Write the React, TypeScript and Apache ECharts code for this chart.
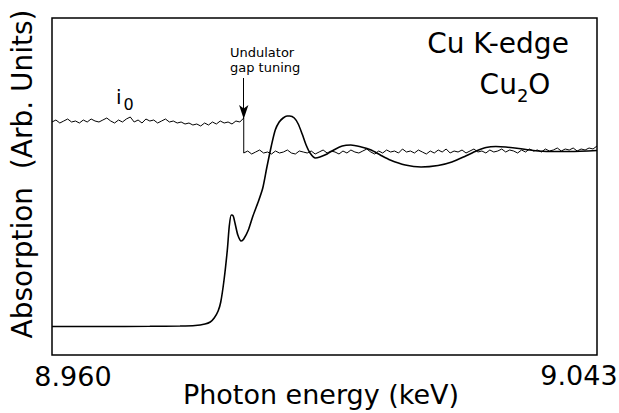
import React, { useEffect, useRef } from "react";
import * as echarts from "echarts";

// X axis range (keV) and its two printed tick labels
const xMin = 8.96;
const xMax = 9.043;
const tickLabels = ["8.960", "9.043"];

// Absorption spectrum (Cu K-edge, Cu2O): energy (keV) and absorption (arb. units)
const absEnergy = [
  8.96, 8.9673, 8.9749, 8.9795, 8.9818, 8.9833, 8.9841, 8.9847, 8.9853, 8.9857,
  8.9862, 8.9867, 8.987, 8.9873, 8.9876, 8.9879, 8.9883, 8.9888, 8.9892, 8.9899,
  8.9906, 8.9914, 8.9921, 8.9927, 8.9934, 8.994, 8.9946, 8.9952, 8.9958, 8.9962,
  8.9969, 8.9975, 8.9981, 8.9987, 8.9993, 9.0001, 9.0008, 9.0019, 9.0029, 9.0042,
  9.0055, 9.0071, 9.0086, 9.01, 9.0115, 9.0138, 9.0162, 9.0188, 9.0209, 9.023,
  9.0246, 9.0261, 9.0276, 9.0291, 9.0311, 9.0333, 9.0358, 9.0389, 9.043,
];
const absValue = [
  28.5, 28.5, 28.7, 29, 29.5, 31, 33, 37, 44, 53,
  75, 105, 129, 140, 139, 131, 120, 114, 116, 125,
  139, 153, 167, 187, 209, 225, 233, 237, 239, 239,
  237, 231, 221, 210, 202, 197, 198, 201, 205, 209,
  210, 208, 205, 200, 195, 190, 188, 189.5, 193, 199,
  204, 207.5, 208.5, 208, 206.5, 204.5, 203.5, 203.5, 204.5,
];

// Incident intensity i0: before the undulator gap tuning step, and after it
const i0PreStart = 8.96;
const i0PreEnd = 8.9892;
const i0PreValue = [
  233, 235, 232, 234, 236, 233, 234, 232, 235, 233,
  236, 234, 233, 235, 237, 234, 232, 235, 233, 236,
  238, 233, 235, 232, 236, 234, 235, 232, 234, 236,
  233, 234, 232, 233, 231, 232, 230, 231, 229, 232,
  230, 233, 231, 234, 232, 233, 231, 234, 233, 237,
];
const i0PostStart = 8.9892;
const i0PostEnd = 9.043;
const i0PostValue = [
  202, 204, 201, 203, 205, 202, 203, 201, 204, 202,
  203, 205, 202, 201, 204, 203, 202, 204, 201, 203,
  205, 202, 204, 203, 201, 204, 202, 205, 203, 202,
  204, 206, 203, 201, 204, 202, 205, 203, 204, 202,
  206, 203, 204, 202, 205, 203, 201, 204, 202, 205,
  203, 206, 202, 204, 203, 205, 202, 204, 206, 203,
  204, 202, 205, 203, 204, 206, 203, 205, 204, 202,
  205, 203, 206, 204, 205, 203, 206, 204, 205, 207,
  204, 206, 205, 207, 204, 206, 205, 207, 206, 209,
];

// Arrow annotation: energy of the gap tuning step, arrow from / to (arb. units)
const arrowEnergy = 8.9892;
const arrowFrom = 277;
const arrowTo = 236;

const FONT = "DejaVu Sans";

function sampled(start: number, end: number, values: number[]) {
  const n = values.length;
  return values.map((v, i) => [start + ((end - start) * i) / (n - 1), v]);
}

export default function App() {
  const ref = useRef<HTMLDivElement>(null);

  useEffect(() => {
    if (!ref.current) return;
    const chart = echarts.init(ref.current, null, { renderer: "svg" });

    const absData = absEnergy.map((e, i) => [e, absValue[i]]);
    const i0Data = [
      ...sampled(i0PreStart, i0PreEnd, i0PreValue),
      ...sampled(i0PostStart, i0PostEnd, i0PostValue),
    ];

    chart.setOption({
      animation: false,
      backgroundColor: "#fff",
      grid: {
        left: 52,
        right: 22,
        top: 18,
        bottom: 58,
        show: true,
        borderColor: "#000",
        borderWidth: 1.5,
        backgroundColor: "transparent",
      },
      xAxis: {
        type: "value",
        min: xMin,
        max: xMax,
        axisLine: { show: false },
        axisTick: { show: false },
        axisLabel: { show: false },
        splitLine: { show: false },
      },
      yAxis: {
        type: "value",
        min: 0,
        max: 337,
        axisLine: { show: false },
        axisTick: { show: false },
        axisLabel: { show: false },
        splitLine: { show: false },
      },
      series: [
        {
          name: "i0",
          type: "line",
          data: i0Data,
          showSymbol: false,
          lineStyle: { color: "#000", width: 1 },
          silent: true,
          markLine: {
            silent: true,
            animation: false,
            label: { show: false },
            lineStyle: { color: "#000", width: 1, type: "solid" },
            symbolSize: [7, 14],
            data: [
              [
                { coord: [arrowEnergy, arrowFrom], symbol: "none" },
                { coord: [arrowEnergy, arrowTo], symbol: "arrow" },
              ],
            ],
          },
        },
        {
          name: "Cu2O",
          type: "line",
          data: absData,
          showSymbol: false,
          smooth: 0.25,
          lineStyle: { color: "#000", width: 1.6 },
          silent: true,
        },
      ],
      graphic: [
        {
          type: "text",
          x: 73,
          y: 376,
          style: {
            text: tickLabels[0],
            font: `27px "${FONT}"`,
            fill: "#000",
            align: "center",
            verticalAlign: "middle",
          },
        },
        {
          type: "text",
          x: 579,
          y: 375,
          style: {
            text: tickLabels[1],
            font: `27px "${FONT}"`,
            fill: "#000",
            align: "center",
            verticalAlign: "middle",
          },
        },
        {
          type: "text",
          x: 321,
          y: 394,
          style: {
            text: "Photon energy (keV)",
            font: `27px "${FONT}"`,
            fill: "#000",
            align: "center",
            verticalAlign: "middle",
          },
        },
        {
          type: "text",
          x: 22,
          y: 174,
          rotation: Math.PI / 2,
          style: {
            text: "Absorption  (Arb. Units)",
            font: `28px "${FONT}"`,
            fill: "#000",
            align: "center",
            verticalAlign: "middle",
          },
        },
        {
          type: "text",
          x: 498,
          y: 43,
          style: {
            text: "Cu K-edge",
            font: `28px "${FONT}"`,
            fill: "#000",
            align: "center",
            verticalAlign: "middle",
          },
        },
        {
          type: "text",
          x: 515,
          y: 83,
          style: {
            text: "{a|Cu}{b|2}{a|O}",
            fill: "#000",
            align: "center",
            verticalAlign: "middle",
            rich: {
              a: { font: `28px "${FONT}"`, fill: "#000", verticalAlign: "bottom", lineHeight: 30 },
              b: { font: `18px "${FONT}"`, fill: "#000", verticalAlign: "bottom", lineHeight: 22, padding: [0, 0, -6, 0] },
            },
          },
        },
        {
          type: "text",
          x: 116,
          y: 96,
          style: {
            text: "{a|i}{b|0}",
            fill: "#000",
            align: "left",
            verticalAlign: "middle",
            rich: {
              a: { font: `20px "${FONT}"`, fill: "#000", verticalAlign: "bottom", lineHeight: 22 },
              b: { font: `16px "${FONT}"`, fill: "#000", verticalAlign: "bottom", lineHeight: 16, padding: [0, 0, -5, 2] },
            },
          },
        },
        {
          type: "text",
          x: 230,
          y: 60,
          style: {
            text: "Undulator\ngap tuning",
            font: `13px "${FONT}"`,
            fill: "#000",
            align: "left",
            verticalAlign: "middle",
            lineHeight: 15,
          },
        },
      ],
    });

    return () => chart.dispose();
  }, []);

  return (
    <div
      ref={ref}
      style={{ position: "fixed", left: 0, top: 0, width: 619, height: 413 }}
    />
  );
}
